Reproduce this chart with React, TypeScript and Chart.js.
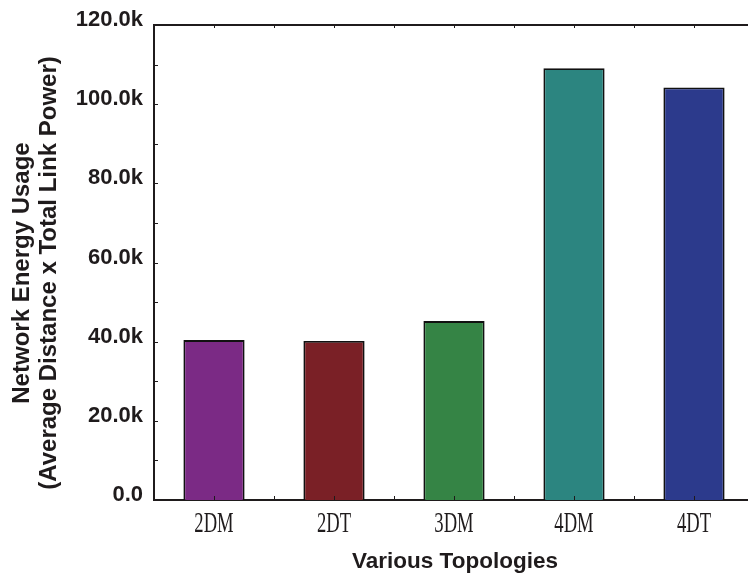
import React, { useEffect, useRef } from "react";
import { Chart, registerables } from "chart.js";

Chart.register(...registerables);

const topologies = ["2DM", "2DT", "3DM", "4DM", "4DT"];
const energyUsage = [40400, 40200, 45200, 109100, 104200];
const barColors = ["#7b2a85", "#7a2026", "#358445", "#2c8580", "#2c3a8c"];
const yTickLabels = ["0.0", "20.0k", "40.0k", "60.0k", "80.0k", "100.0k", "120.0k"];
const yTitleLines = ["Network Energy Usage", "(Average Distance x Total Link Power)"];
const xTitle = "Various Topologies";

const INK = "#1f1b1c";

// Frame, inward ticks, condensed serif category labels and axis titles
const framePlugin = {
  id: "frame",
  afterDraw(chart: any) {
    const { ctx, chartArea, scales } = chart;
    const x = scales.x;
    const y = scales.y;
    ctx.save();
    ctx.strokeStyle = INK;
    // top border
    ctx.lineWidth = 2;
    ctx.beginPath();
    ctx.moveTo(chartArea.left - 1, chartArea.top);
    ctx.lineTo(chartArea.right + 40, chartArea.top);
    ctx.stroke();

    // minor/major ticks on left axis, pointing inside
    ctx.lineWidth = 1;
    for (let v = 0; v <= 120000; v += 10000) {
      const py = Math.round(y.getPixelForValue(v)) + 0.5;
      ctx.beginPath();
      ctx.moveTo(chartArea.left, py);
      ctx.lineTo(chartArea.left + 4, py);
      ctx.stroke();
    }
    // ticks on bottom and top axes at category centres and between
    const n = topologies.length;
    for (let i = 0; i <= 2 * n; i++) {
      const px = Math.round(x.getPixelForValue(i / 2 - 0.5)) + 0.5;
      ctx.beginPath();
      ctx.moveTo(px, chartArea.bottom);
      ctx.lineTo(px, chartArea.bottom - 4);
      ctx.moveTo(px, chartArea.top);
      ctx.lineTo(px, chartArea.top + 3);
      ctx.stroke();
    }

    // category labels
    ctx.fillStyle = INK;
    ctx.font = "30px 'Liberation Serif', serif";
    ctx.textAlign = "center";
    ctx.textBaseline = "alphabetic";
    topologies.forEach((t, i) => {
      const px = x.getPixelForValue(i);
      ctx.save();
      ctx.translate(px, 532);
      ctx.scale(0.62, 1);
      ctx.fillText(t, 0, 0);
      ctx.restore();
    });

    // x title
    ctx.font = "bold 22.5px 'Liberation Sans', Arial, sans-serif";
    ctx.fillText(xTitle, 455, 568);

    // y title, two rotated lines
    ctx.font = "bold 24px 'Liberation Sans', Arial, sans-serif";
    const baselines = [29, 56];
    yTitleLines.forEach((line, i) => {
      ctx.save();
      ctx.translate(baselines[i], 273);
      ctx.rotate(-Math.PI / 2);
      ctx.fillText(line, 0, 0);
      ctx.restore();
    });
    ctx.restore();
  },
};

export default function App() {
  const canvasRef = useRef<HTMLCanvasElement | null>(null);

  useEffect(() => {
    const canvas = canvasRef.current;
    if (!canvas) return;
    const chart = new Chart(canvas, {
      type: "bar",
      data: {
        labels: topologies,
        datasets: [
          {
            data: energyUsage,
            backgroundColor: barColors,
            borderColor: "#111111",
            borderWidth: 1.8,
            barPercentage: 1,
            categoryPercentage: 0.51,
          },
        ],
      },
      options: {
        responsive: false,
        animation: false,
        devicePixelRatio: 1,
        layout: { padding: { left: 0, top: 25, right: 26, bottom: 0 } },
        plugins: {
          legend: { display: false },
          tooltip: { enabled: false },
          title: { display: false },
        },
        scales: {
          x: {
            grid: { display: false, drawTicks: false },
            border: { display: true, color: INK, width: 2 },
            ticks: { display: false },
            afterFit(scale: any) {
              scale.height = 80;
            },
          },
          y: {
            min: 0,
            max: 120000,
            grid: { display: false, drawTicks: false },
            border: { display: true, color: INK, width: 2 },
            ticks: {
              stepSize: 20000,
              padding: 11,
              labelOffset: -5,
              color: INK,
              font: { family: "'Liberation Sans', Arial, sans-serif", size: 22, weight: "bold" },
              callback: (_v: any, i: number) => yTickLabels[i],
            },
            afterFit(scale: any) {
              scale.width = 154;
            },
          },
        },
      },
      plugins: [framePlugin],
    });
    return () => chart.destroy();
  }, []);

  return (
    <div
      style={{
        position: "fixed",
        left: 0,
        top: 0,
        width: 748,
        height: 580,
        overflow: "hidden",
        background: "#fff",
      }}
    >
      <canvas ref={canvasRef} width={780} height={580} style={{ width: 780, height: 580, display: "block" }} />
    </div>
  );
}
